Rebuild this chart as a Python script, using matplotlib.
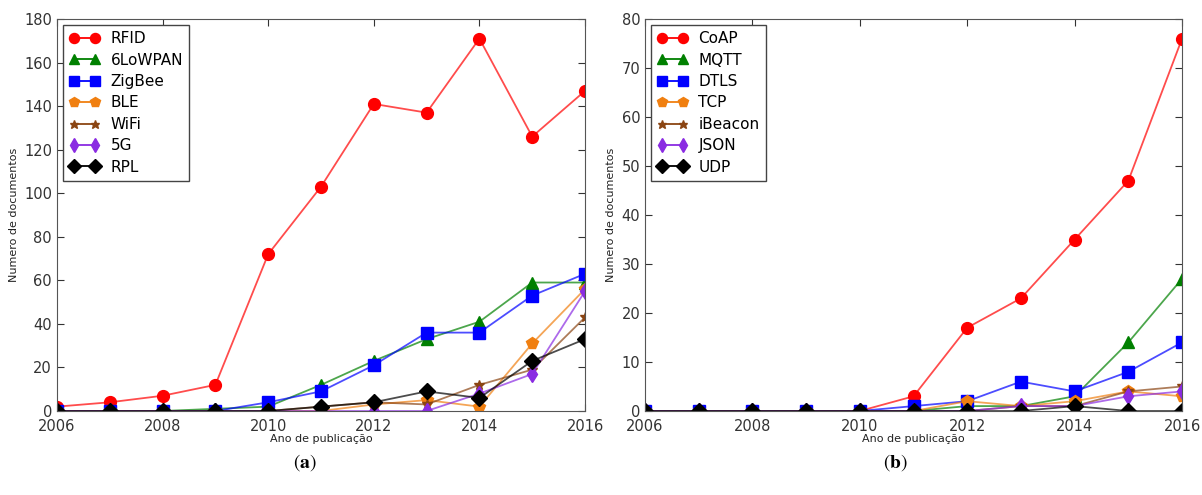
import numpy as np
import matplotlib
matplotlib.use("Agg")
import matplotlib.pyplot as plt

years = list(range(2006, 2017))

# (a) technologies
rfid    = [2, 4, 7, 12, 72, 103, 141, 137, 171, 126, 147]
lowpan  = [0, 0, 0, 1, 2, 12, 23, 33, 41, 59, 59]
zigbee  = [0, 0, 0, 0, 4, 9, 21, 36, 36, 53, 63]
ble     = [0, 0, 0, 0, 0, 0, 3, 5, 2, 31, 56]
wifi    = [0, 0, 0, 0, 0, 2, 4, 3, 12, 19, 43]
g5      = [0, 0, 0, 0, 0, 0, 0, 0, 8, 17, 55]
rpl     = [0, 0, 0, 0, 0, 2, 4, 9, 6, 23, 33]

# (b) protocols
coap    = [0, 0, 0, 0, 0, 3, 17, 23, 35, 47, 76]
mqtt    = [0, 0, 0, 0, 0, 0, 1, 1, 3, 14, 27]
dtls    = [0, 0, 0, 0, 0, 1, 2, 6, 4, 8, 14]
tcp     = [0, 0, 0, 0, 0, 0, 2, 1, 2, 4, 3]
ibeacon = [0, 0, 0, 0, 0, 0, 0, 1, 1, 4, 5]
json    = [0, 0, 0, 0, 0, 0, 0, 1, 1, 3, 4]
udp     = [0, 0, 0, 0, 0, 0, 0, 0, 1, 0, 0]

left_names = ["RFID", "6LoWPAN", "ZigBee", "BLE", "WiFi", "5G", "RPL"]
left_data = [rfid, lowpan, zigbee, ble, wifi, g5, rpl]
right_names = ["CoAP", "MQTT", "DTLS", "TCP", "iBeacon", "JSON", "UDP"]
right_data = [coap, mqtt, dtls, tcp, ibeacon, json, udp]

colors = ["#ff0000", "#008000", "#0000ff", "#f07f10", "#8b4513", "#8a2be2", "#000000"]
markers = ["o", "^", "s", "p", "*", "d", "D"]
msizes = [8.5, 8.5, 8.5, 8.5, 7.5, 8.5, 8.5]

plt.rcParams["mathtext.fontset"] = "stix"

fig = plt.figure(figsize=(12.02, 4.95), dpi=100)
ax1 = fig.add_axes([0.0474, 0.1697, 0.4393, 0.7919])
ax2 = fig.add_axes([0.5366, 0.1697, 0.4468, 0.7919])


def draw(ax, names, data, ymax, yticks):
    for name, vals, c, m, ms in zip(names, data, colors, markers, msizes):
        ax.plot(years, vals, color=c, lw=1.3, alpha=0.7)
        ax.plot(years, vals, ls="none", marker=m, ms=ms, color=c, mec=c)
        # legend proxy
        ax.plot([], [], color=c, lw=1.3, marker=m, ms=ms * 0.85, mec=c, label=name)
    ax.set_xlim(2006, 2016)
    ax.set_ylim(0, ymax)
    ax.set_xticks(range(2006, 2017, 2))
    ax.set_yticks(yticks)
    ax.tick_params(direction="in", top=True, right=True, labelsize=10.5,
                   colors="#333333", length=5)
    ax.tick_params(axis="x", pad=6)
    for s in ax.spines.values():
        s.set_color("#555555")
    ax.set_xlabel("Ano de publicação", fontsize=8, color="#222222", labelpad=0)
    ax.set_ylabel("Numero de documentos", fontsize=8, color="#222222", labelpad=4)
    leg = ax.legend(loc="upper left", numpoints=2, fontsize=11, fancybox=False,
                    edgecolor="#444444", framealpha=1, handlelength=2.0,
                    borderpad=0.4, labelspacing=0.42, handletextpad=0.7,
                    borderaxespad=0.4)
    leg.get_frame().set_linewidth(1.0)


draw(ax1, left_names, left_data, 180, range(0, 181, 20))
draw(ax2, right_names, right_data, 80, range(0, 81, 10))

fig.text(0.254, 0.065, r"($\mathbf{a}$)", ha="center", va="center", fontsize=14,
         family="STIXGeneral")
fig.text(0.745, 0.065, r"($\mathbf{b}$)", ha="center", va="center", fontsize=14,
         family="STIXGeneral")

fig.savefig("out.png", dpi=100)
plt.close(fig)
